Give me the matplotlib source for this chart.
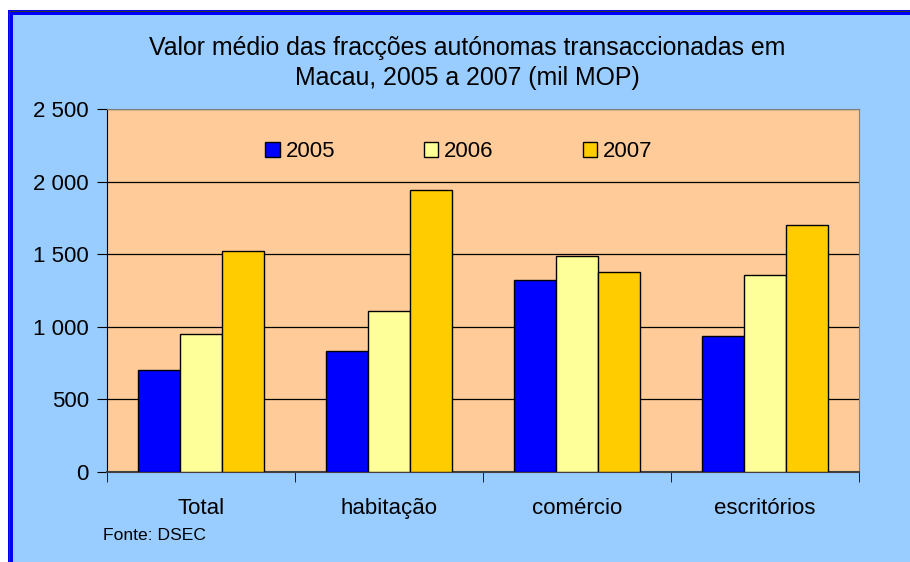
import matplotlib
matplotlib.use("Agg")
import matplotlib.pyplot as plt
import numpy as np
from matplotlib.patches import Rectangle, Patch
from matplotlib.ticker import FuncFormatter, FixedLocator

plt.rcParams["font.family"] = ["Liberation Sans", "DejaVu Sans"]

categories = ["Total", "habitação", "comércio", "escritórios"]
years = ["2005", "2006", "2007"]
v2005 = [705, 830, 1320, 935]
v2006 = [950, 1108, 1490, 1358]
v2007 = [1520, 1942, 1380, 1700]
colors = ["#0000FF", "#FFFF99", "#FFCC00"]

W, H = 910, 562
fig = plt.figure(figsize=(W / 100, H / 100), dpi=100, facecolor="white")

# outer frame (cropped at right/bottom like the original)
fig.patches.append(Rectangle((10 / W, -0.05), 1.1, (H - 10) / H + 0.05 - 2 / H,
                             transform=fig.transFigure, facecolor="#99CCFF",
                             edgecolor="#0000FF", lw=3.6, zorder=-2))
fig.patches.append(Rectangle((9 / W, -0.05), 1.1, (H - 9) / H + 0.05 - 2 / H,
                             transform=fig.transFigure, facecolor="none",
                             edgecolor="#333333", lw=0.8, zorder=-1))

ax = fig.add_axes([107 / W, 90 / H, 752 / W, 363 / H])
ax.set_zorder(2)
ax.set_facecolor("#FFCC99")

x = np.arange(len(categories))
bw = 1 / 4.5
for i, (vals, c, yr) in enumerate(zip([v2005, v2006, v2007], colors, years)):
    ax.bar(x + (i - 1) * bw, vals, width=bw, color=c, edgecolor="black",
           lw=1.0, zorder=3, label=yr)

ax.set_xlim(-0.5, len(categories) - 0.5)
ax.set_ylim(0, 2500)
ax.set_yticks(np.arange(0, 2501, 500))
ax.yaxis.set_major_formatter(FuncFormatter(lambda v, p: f"{int(v):,}".replace(",", " ")))
ax.grid(True, axis="y", color="black", lw=0.9, zorder=1)

ax.set_xticks(x)
ax.set_xticklabels(categories, fontsize=16)
ax.tick_params(axis="x", length=0, pad=19)
ax.xaxis.set_minor_locator(FixedLocator(np.arange(-0.5, len(categories), 1)))
ax.tick_params(axis="x", which="minor", length=7, direction="out", color="black")
ax.tick_params(axis="y", length=7, direction="out", pad=6, labelsize=16)

for s in ("top", "right"):
    ax.spines[s].set_color("#808080")
ax.spines["left"].set_color("black")
ax.spines["bottom"].set_color("#404040")
ax.spines["bottom"].set_linewidth(1.5)

handles = [Patch(facecolor=c, edgecolor="black", lw=1.0) for c in colors]
ax.legend(handles, years, loc="center", bbox_to_anchor=(0.468, 0.882), ncol=3,
          frameon=False, fontsize=16, handlelength=0.64, handleheight=0.64,
          handletextpad=0.27, columnspacing=4.0)

fig.text(467 / W, 1 - 48 / H, "Valor médio das fracções autónomas transaccionadas em",
         ha="center", va="center", fontsize=17.9)
fig.text(467 / W, 1 - 78 / H, "Macau, 2005 a 2007 (mil MOP)",
         ha="center", va="center", fontsize=17.9)
fig.text(103 / W, 1 - 535 / H, "Fonte: DSEC", ha="left", va="center", fontsize=12.6)

fig.savefig("out.png", dpi=100, facecolor="white")
